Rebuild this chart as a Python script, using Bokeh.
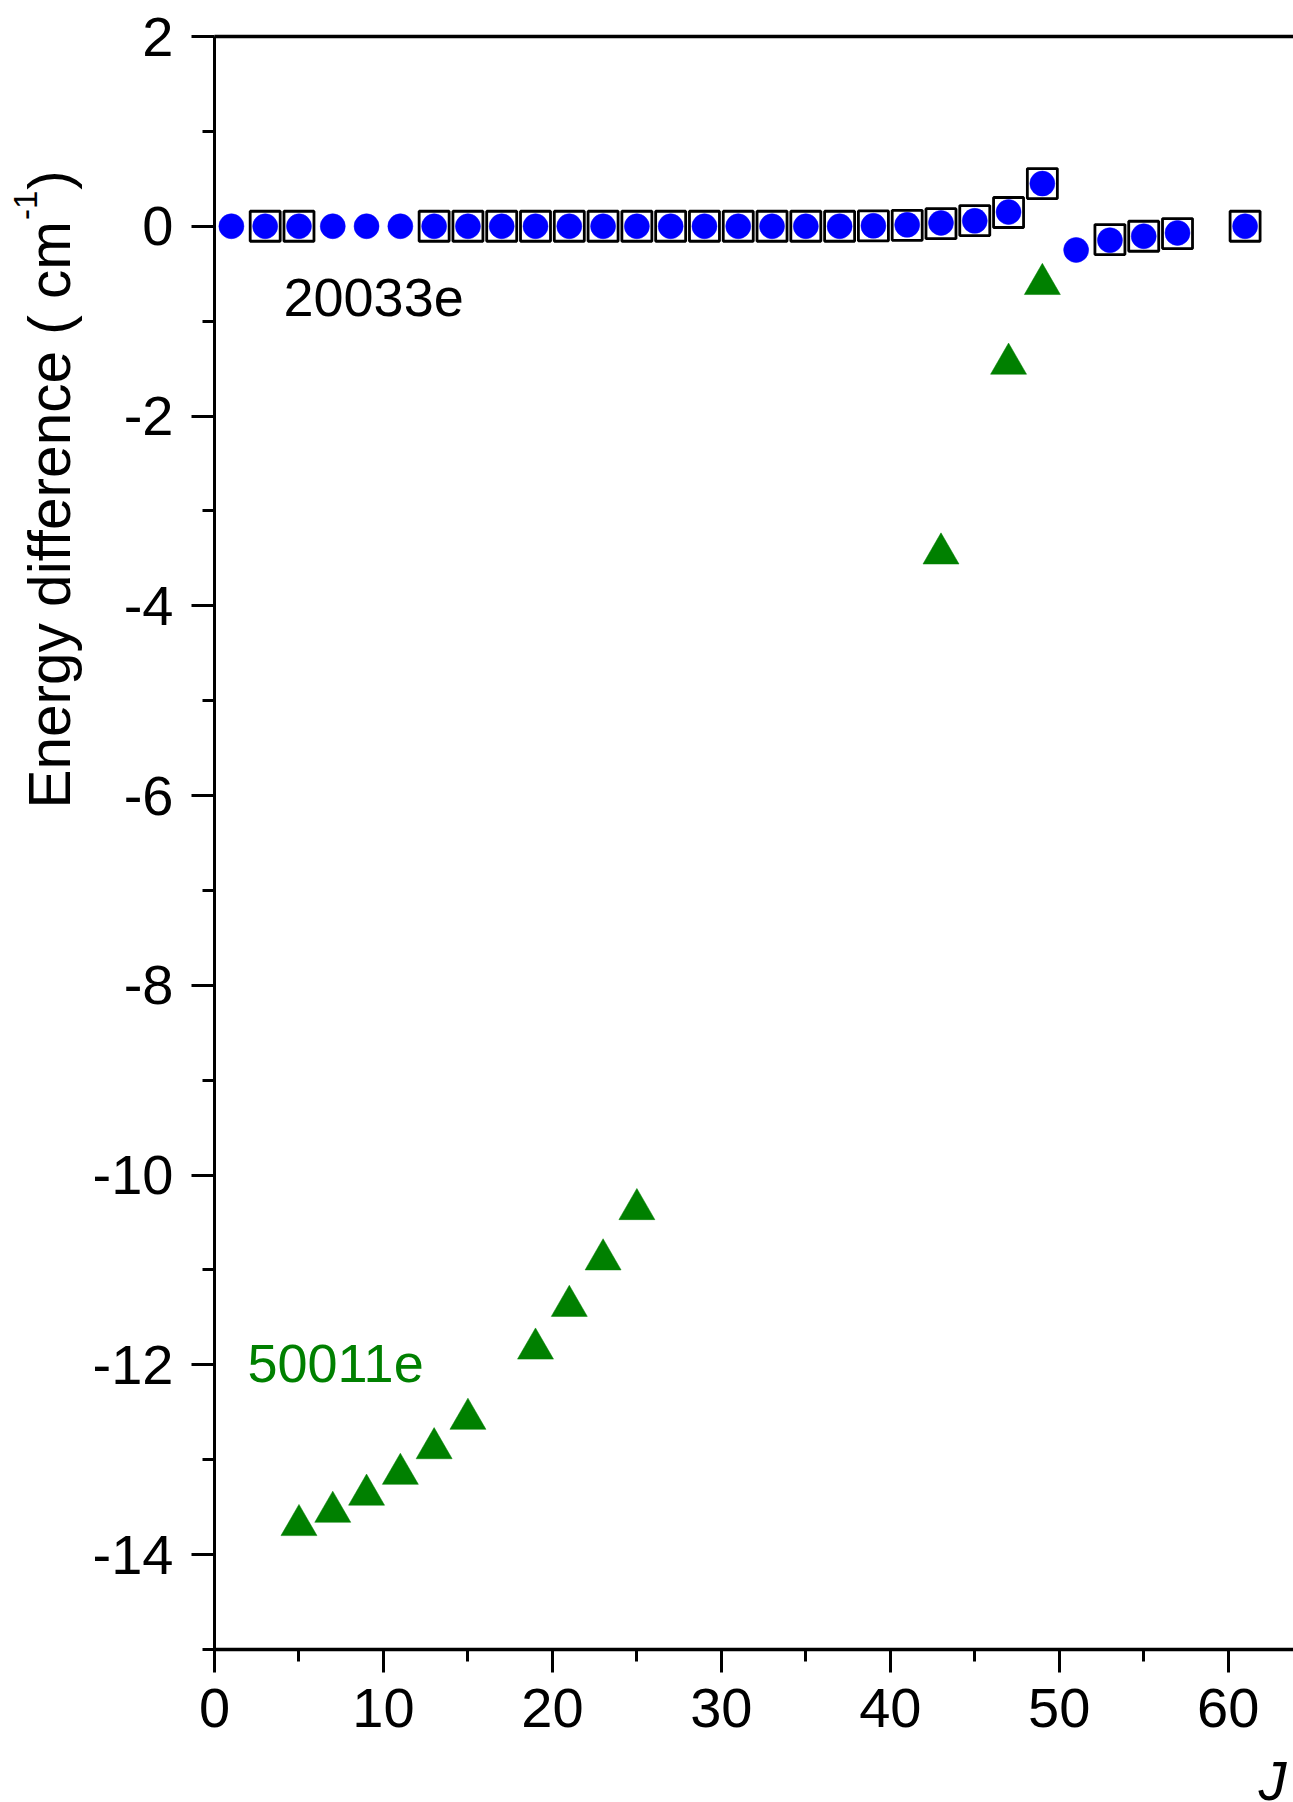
import math
from bokeh.plotting import figure
from bokeh.models import (ColumnDataSource, Range1d, LinearAxis, FixedTicker, Label)
from bokeh.embed import file_html
from bokeh.resources import INLINE

# ---------------- data ----------------
J_circle = [1, 3, 5, 7, 9, 11, 13, 15, 17, 19, 21, 23, 25, 27, 29, 31, 33, 35, 37,
            39, 41, 43, 45, 47, 49, 51, 53, 55, 57, 61]
dE_circle = [0, 0, 0, 0, 0, 0, 0, 0, 0, 0, 0, 0, 0, 0, 0, 0, 0, 0, 0,
             0.005, 0.015, 0.035, 0.057, 0.15, 0.45, -0.25, -0.147, -0.105, -0.07, 0]

J_square = [3, 5, 13, 15, 17, 19, 21, 23, 25, 27, 29, 31, 33, 35, 37,
            39, 41, 43, 45, 47, 49, 53, 55, 57, 61]
dE_square = [0, 0, 0, 0, 0, 0, 0, 0, 0, 0, 0, 0, 0, 0, 0,
             0.004, 0.01, 0.027, 0.06, 0.145, 0.45, -0.14, -0.105, -0.077, 0]

J_triangle = [5, 7, 9, 11, 13, 15, 19, 21, 23, 25, 43, 47, 49]
dE_triangle = [-13.69, -13.55, -13.37, -13.15, -12.88, -12.57, -11.83, -11.38,
               -10.89, -10.36, -3.45, -1.45, -0.61]

x_ticks = [0, 10, 20, 30, 40, 50, 60]
x_minor = [5, 15, 25, 35, 45, 55]
x_tick_labels = ["0", "10", "20", "30", "40", "50", "60"]
y_ticks = [-14, -12, -10, -8, -6, -4, -2, 0, 2]
y_minor = [-15, -13, -11, -9, -7, -5, -3, -1, 1]
y_tick_labels = ["-14", "-12", "-10", "-8", "-6", "-4", "-2", "0", "2"]
x_axis_min, x_axis_max = 0, 70
y_axis_min, y_axis_max = -15, 2

label_20033e = "20033e"
label_50011e = "50011e"
y_title_main = "Energy difference ( cm"
y_title_sup = "-1"
y_title_end = ")"
x_title = "J"

# ---------------- geometry (canvas px) ----------------
W, H = 1293, 1802
FL, FT, FB = 214.0, 36.0, 1649.0          # pixel positions of x=0, y=2, y=-15
px_per_x = 16.895
px_per_y = (FB - FT) / (y_axis_max - y_axis_min)

def shift(fs):    # Label anchor vs. rendered glyph baseline correction
    return 0.36 * fs

def cx(px):   # canvas pixel -> data x
    return (px - FL) / px_per_x

def cy(py):   # canvas pixel -> data y
    return y_axis_max - (py - FT) / px_per_y

FONT = "Liberation Sans"

p = figure(width=W, height=H, output_backend="svg", toolbar_location=None,
           x_range=Range1d(cx(0), cx(W)), y_range=Range1d(cy(H), cy(0)),
           min_border=0, x_axis_location=None, y_axis_location=None)
p.outline_line_color = None
p.xgrid.visible = False
p.ygrid.visible = False
p.background_fill_color = "white"
p.border_fill_color = "white"

# left axis, placed at x = 0
ya = LinearAxis(ticker=FixedTicker(ticks=y_ticks, minor_ticks=y_minor),
                fixed_location=x_axis_min, bounds=(y_axis_min, y_axis_max))
ya.major_label_overrides = {t: l for t, l in zip(y_ticks, y_tick_labels)}
# bottom axis, placed at y = -15
xa = LinearAxis(ticker=FixedTicker(ticks=x_ticks, minor_ticks=x_minor),
                fixed_location=y_axis_min, bounds=(x_axis_min, x_axis_max))
xa.major_label_overrides = {t: l for t, l in zip(x_ticks, x_tick_labels)}
for ax in (ya, xa):
    ax.axis_line_width = 3
    ax.axis_line_color = "black"
    ax.major_tick_line_width = 3
    ax.minor_tick_line_width = 3
    ax.major_tick_out = 23
    ax.major_tick_in = 0
    ax.minor_tick_out = 12
    ax.minor_tick_in = 0
    ax.major_label_text_font = FONT
    ax.major_label_text_font_size = "56px"
    ax.major_label_text_color = "black"
xa.axis_line_width = 3.5
ya.major_label_standoff = 18
xa.major_label_standoff = 16
p.add_layout(ya, "left")
p.add_layout(xa, "below")

# top border line at y = 2
ta = LinearAxis(ticker=FixedTicker(ticks=[], minor_ticks=[]),
                fixed_location=y_axis_max, bounds=(x_axis_min, x_axis_max))
ta.axis_line_width = 3.5
ta.major_tick_in = 0
ta.major_tick_out = 0
ta.minor_tick_in = 0
ta.minor_tick_out = 0
p.add_layout(ta, "above")

# data
src_sq = ColumnDataSource(dict(x=J_square, y=dE_square))
src_c = ColumnDataSource(dict(x=J_circle, y=dE_circle))
src_t = ColumnDataSource(dict(x=J_triangle, y=dE_triangle))

p.scatter("x", "y", source=src_sq, marker="square", size=30, fill_color="white",
          line_color="black", line_width=2.8)
p.scatter("x", "y", source=src_c, marker="circle", size=25, fill_color="#0000FF",
          line_color="#0000FF", line_width=0.5)
p.scatter("x", "y", source=src_t, marker="triangle", size=36, fill_color="#008000",
          line_color="#008000", line_width=0.5)

# in-plot labels
p.add_layout(Label(x=cx(283), y=cy(318 - 21), text=label_20033e,
                   text_font=FONT, text_font_size="54px", text_color="black",
                   text_baseline="alphabetic"))
p.add_layout(Label(x=cx(247), y=cy(1384 - 21), text=label_50011e,
                   text_font=FONT, text_font_size="54px", text_color="#008000",
                   text_baseline="alphabetic"))

# y axis title (rotated, with superscript)
main_fs, sup_fs = 58.5, 33
y_start = 808.0
main_end = y_start - 10.059 * main_fs
sup_end = main_end - 0.889 * sup_fs
p.add_layout(Label(x=cx(70 - shift(main_fs)), y=cy(y_start), text=y_title_main,
                   angle=math.pi / 2, text_font=FONT, text_font_size=f"{main_fs}px",
                   text_color="black", text_align="left", text_baseline="alphabetic"))
p.add_layout(Label(x=cx(37 - shift(sup_fs)), y=cy(main_end), text=y_title_sup,
                   angle=math.pi / 2, text_font=FONT, text_font_size=f"{sup_fs}px",
                   text_color="black", text_align="left", text_baseline="alphabetic"))
p.add_layout(Label(x=cx(70 - shift(main_fs)), y=cy(sup_end - 1), text=y_title_end,
                   angle=math.pi / 2, text_font=FONT, text_font_size=f"{main_fs}px",
                   text_color="black", text_align="left", text_baseline="alphabetic"))

# x axis title
p.add_layout(Label(x=cx(1258), y=cy(1800 - shift(56)), text=x_title,
                   text_font=FONT, text_font_size="56px", text_font_style="italic",
                   text_color="black", text_baseline="alphabetic"))

open("out.html", "w").write(file_html(p, INLINE))
